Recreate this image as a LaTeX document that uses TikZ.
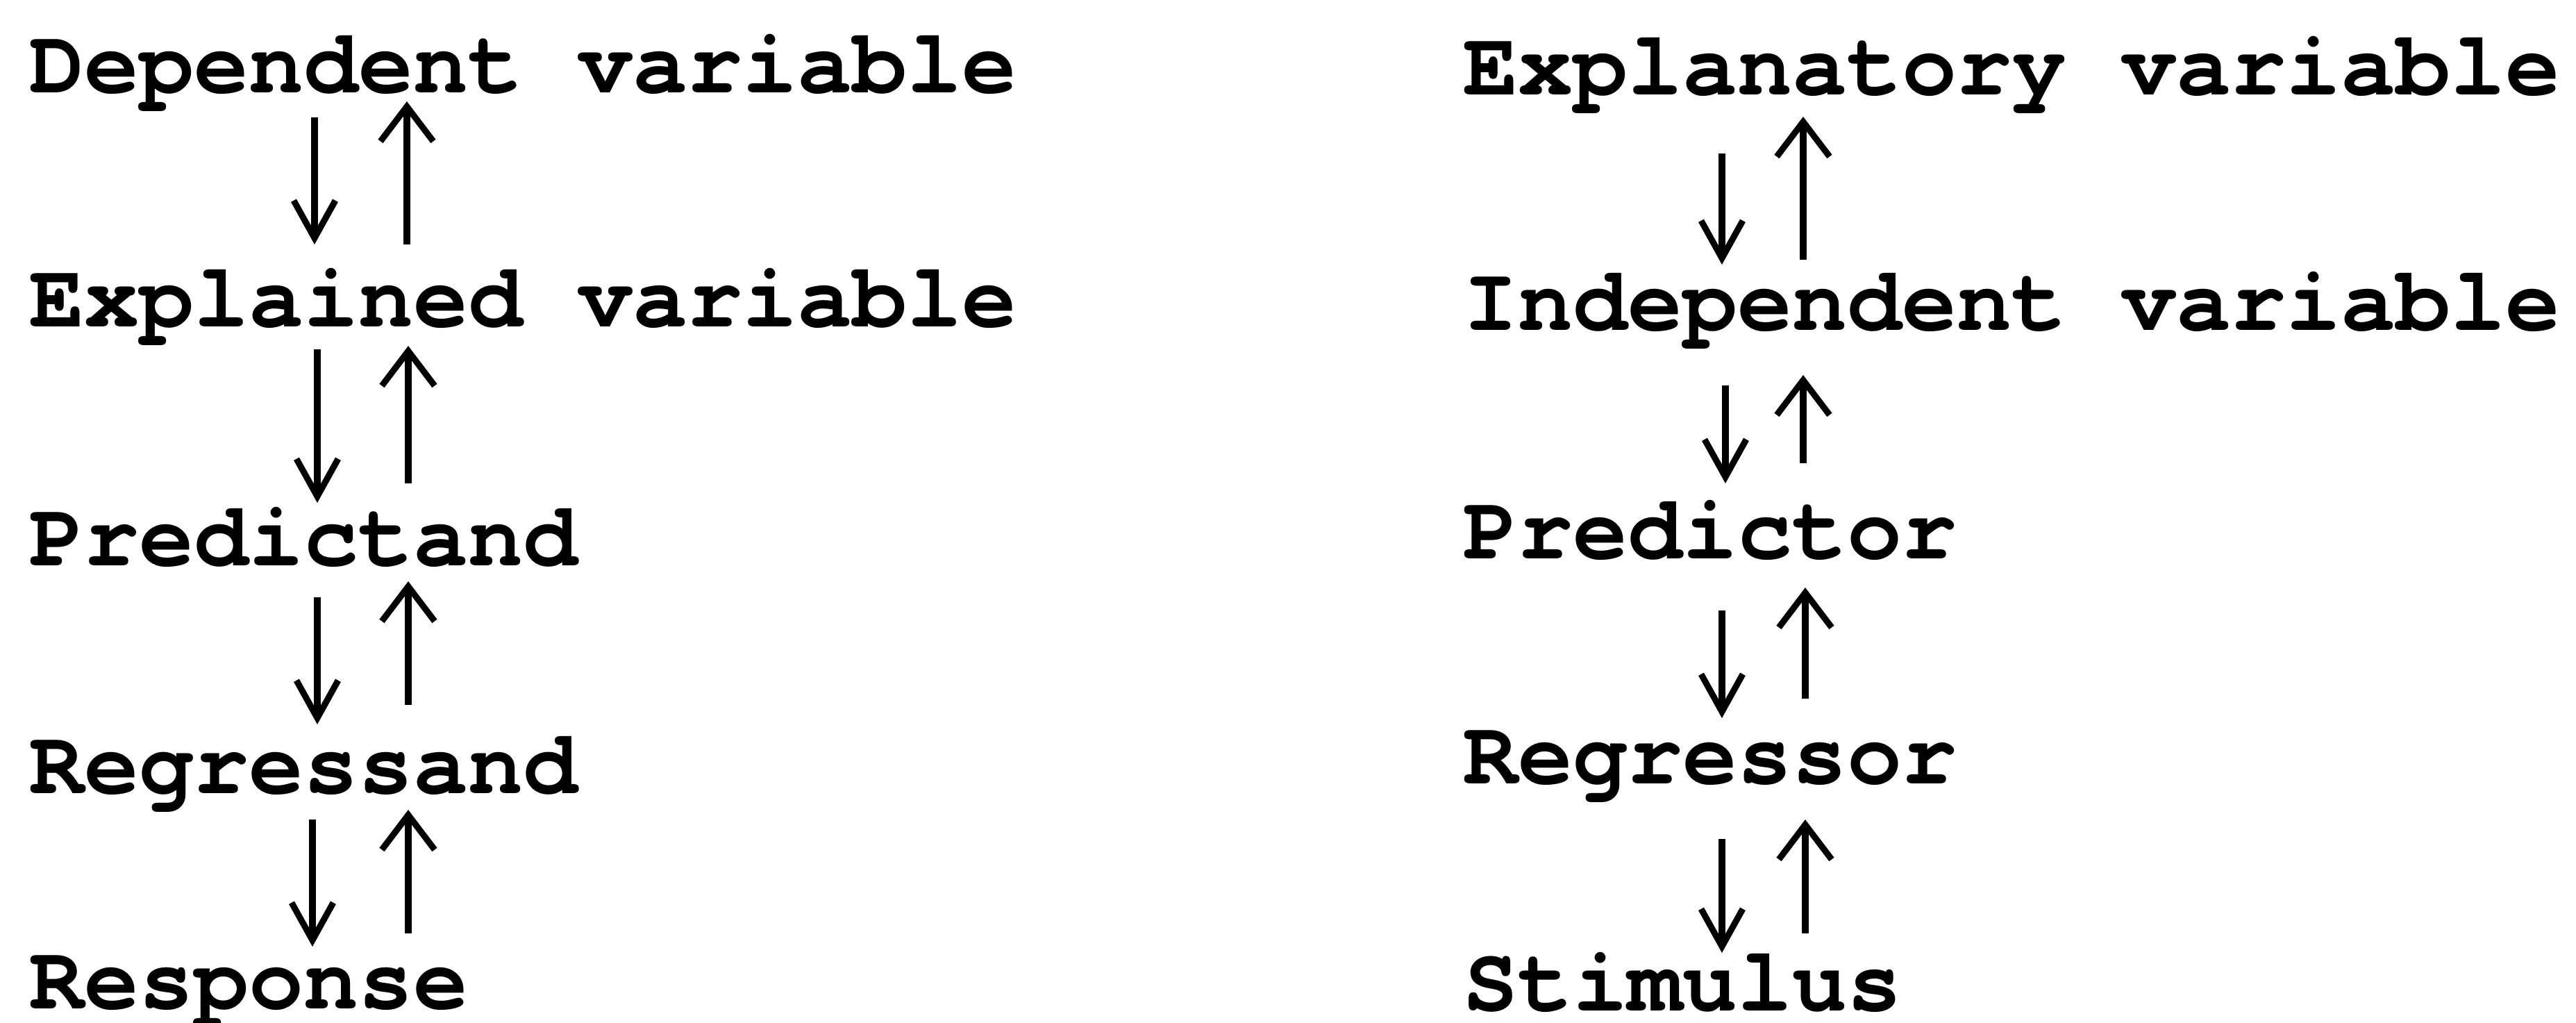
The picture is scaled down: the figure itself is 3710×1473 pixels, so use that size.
\documentclass[tikz,border=0pt]{standalone}
\usepackage{fontspec}
\newfontfamily\cur{TeX Gyre Cursor}[BoldFont={* Bold}]
\usetikzlibrary{arrows.meta}
\begin{document}
\begin{tikzpicture}[x=0.1pt,y=-0.1pt,
  lbl/.style={inner sep=0pt,anchor=base west,font=\cur\bfseries\fontsize{13.17pt}{14pt}\selectfont},
  dn/.style={line width=1pt,-{Straight Barb[length=5.4pt,width=6pt,line width=0.9pt]}},
  upa/.style={line width=1pt,-{Straight Barb[length=5pt,width=7.6pt,line width=0.9pt]}}]
\useasboundingbox[fill=white] (0,0) rectangle (3710,1473);
% left column
\node[lbl] (dep) at (40,133) {Dependent variable};
\node[lbl] (exd) at (40,470) {Explained variable};
\node[lbl] (pnd) at (40,814) {Predictand};
\node[lbl] (rnd) at (40,1142) {Regressand};
\node[lbl] (rsp) at (40,1452) {Response};
% right column
\node[lbl] (exy) at (2105,136) {Explanatory variable};
\node[lbl] (ind) at (2105,475) {Independent variable};
\node[lbl] (pdr) at (2105,804) {Predictor};
\node[lbl] (rsr) at (2105,1128) {Regressor};
\node[lbl] (stm) at (2105,1455) {Stimulus};
% left arrows
\draw[dn]  ([shift={(41.3pt,-3.6pt)}]dep.base west) -- ([shift={(41.3pt,11.8pt)}]exd.base west);
\draw[upa] ([shift={(54.6pt,11.8pt)}]exd.base west) -- ([shift={(54.6pt,-1.3pt)}]dep.base west);
\draw[dn]  ([shift={(41.7pt,-3.3pt)}]exd.base west) -- ([shift={(41.7pt,9.0pt)}]pnd.base west);
\draw[upa] ([shift={(54.8pt,11.8pt)}]pnd.base west) -- ([shift={(54.8pt,-2.8pt)}]exd.base west);
\draw[dn]  ([shift={(41.7pt,-4.6pt)}]pnd.base west) -- ([shift={(41.7pt,9.9pt)}]rnd.base west);
\draw[upa] ([shift={(54.8pt,12.7pt)}]rnd.base west) -- ([shift={(54.8pt,-2.3pt)}]pnd.base west);
\draw[dn]  ([shift={(41.0pt,-3.8pt)}]rnd.base west) -- ([shift={(41.0pt,8.9pt)}]rsp.base west);
\draw[upa] ([shift={(54.8pt,10.8pt)}]rsp.base west) -- ([shift={(54.8pt,-2.4pt)}]rnd.base west);
% right arrows
\draw[dn]  ([shift={(37.5pt,-8.5pt)}]exy.base west) -- ([shift={(37.5pt,9.4pt)}]ind.base west);
\draw[upa] ([shift={(49.2pt,10.1pt)}]ind.base west) -- ([shift={(49.2pt,-3.2pt)}]exy.base west);
\draw[dn]  ([shift={(38.0pt,-8.0pt)}]ind.base west) -- ([shift={(38.0pt,10.8pt)}]pdr.base west);
\draw[upa] ([shift={(49.2pt,13.7pt)}]pdr.base west) -- ([shift={(49.2pt,-6.5pt)}]ind.base west);
\draw[dn]  ([shift={(37.5pt,-7.5pt)}]pdr.base west) -- ([shift={(37.5pt,9.4pt)}]rsr.base west);
\draw[upa] ([shift={(49.5pt,12.2pt)}]rsr.base west) -- ([shift={(49.5pt,-4.2pt)}]pdr.base west);
\draw[dn]  ([shift={(37.5pt,-8.0pt)}]rsr.base west) -- ([shift={(37.5pt,8.3pt)}]stm.base west);
\draw[upa] ([shift={(49.5pt,11.1pt)}]stm.base west) -- ([shift={(49.5pt,-5.2pt)}]rsr.base west);
\end{tikzpicture}
\end{document}
